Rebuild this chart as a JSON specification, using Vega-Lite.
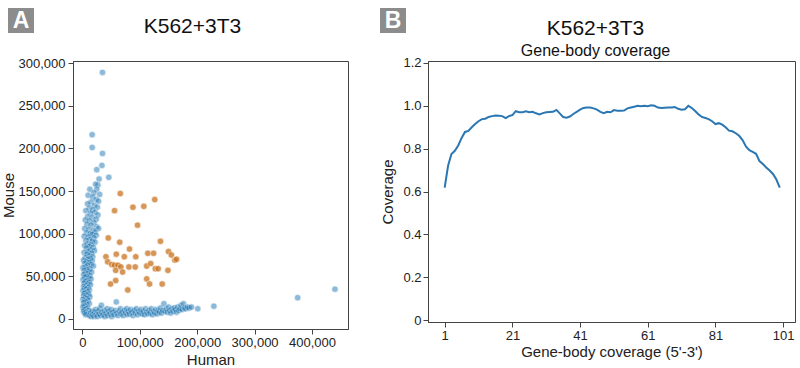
{
  "$schema": "https://vega.github.io/schema/vega-lite/v6.json",
  "padding": {"left": 0, "top": 0, "right": 0, "bottom": 0},
  "background": "white",
  "config": {
    "font": "Liberation Sans",
    "view": {"stroke": "#444", "strokeWidth": 1},
    "axis": {"grid": false, "domainColor": "#444", "tickColor": "#444", "tickSize": 5, "labelFontSize": 13, "labelColor": "#222", "titleFontSize": 15, "titleFontWeight": "normal", "titleColor": "#222", "labelPadding": 2, "titlePadding": 3},
    "title": {"fontSize": 21, "fontWeight": "normal", "color": "#111", "subtitleFontSize": 16, "subtitleColor": "#111", "subtitleFont": "Liberation Sans"}
  },
  "columns": 1,
  "align": "none",
  "spacing": -26,
  "concat": [
    {
      "spacing": 330,
      "hconcat": [
        {
          "width": 34, "height": 33,
          "view": {"fill": "#8c8c8c", "stroke": "white", "strokeWidth": 8},
          "data": {"values": [{"label": "A"}]},
          "mark": {"type": "text", "fontSize": 23, "fontWeight": "bold", "color": "white", "font": "Liberation Sans"},
          "encoding": {"text": {"field": "label"}}
        },
        {
          "width": 34, "height": 33,
          "view": {"fill": "#8c8c8c", "stroke": "white", "strokeWidth": 8},
          "data": {"values": [{"label": "B"}]},
          "mark": {"type": "text", "fontSize": 23, "fontWeight": "bold", "color": "white", "font": "Liberation Sans"},
          "encoding": {"text": {"field": "label"}}
        }
      ]
    },
    {
      "spacing": 31,
      "hconcat": [
        {
          "spacing": -5,
          "hconcat": [
            {
              "width": 1, "height": 1,
              "view": {"stroke": null, "fill": null},
              "data": {"values": [{"label": ""}]},
              "mark": {"type": "text"},
              "encoding": {"text": {"field": "label"}}
            },
            {
              "width": 275, "height": 268,
              "view": {"stroke": "#444", "strokeWidth": 1},
              "title": {"text": "K562+3T3", "dx": -18, "offset": 20},
              "data": {"values": [
                {"Human":35000,"Mouse":289000,"Type":"Singlet"},{"Human":17000,"Mouse":216000,"Type":"Singlet"},{"Human":17000,"Mouse":201000,"Type":"Singlet"},{"Human":35000,"Mouse":194000,"Type":"Singlet"},{"Human":34000,"Mouse":180000,"Type":"Singlet"},{"Human":25000,"Mouse":175000,"Type":"Singlet"},{"Human":46000,"Mouse":166000,"Type":"Singlet"},{"Human":29000,"Mouse":164000,"Type":"Singlet"},{"Human":27000,"Mouse":157000,"Type":"Singlet"},{"Human":23000,"Mouse":158000,"Type":"Singlet"},{"Human":13000,"Mouse":152000,"Type":"Singlet"},{"Human":25000,"Mouse":152000,"Type":"Singlet"},{"Human":20000,"Mouse":148000,"Type":"Singlet"},{"Human":30000,"Mouse":146000,"Type":"Singlet"},{"Human":10000,"Mouse":145000,"Type":"Singlet"},{"Human":18000,"Mouse":143000,"Type":"Singlet"},{"Human":24000,"Mouse":140000,"Type":"Singlet"},{"Human":28000,"Mouse":138000,"Type":"Singlet"},{"Human":15000,"Mouse":137000,"Type":"Singlet"},{"Human":9000,"Mouse":135000,"Type":"Singlet"},{"Human":21000,"Mouse":133000,"Type":"Singlet"},{"Human":26000,"Mouse":131000,"Type":"Singlet"},{"Human":12000,"Mouse":130000,"Type":"Singlet"},{"Human":18000,"Mouse":128000,"Type":"Singlet"},{"Human":6000,"Mouse":127000,"Type":"Singlet"},{"Human":22000,"Mouse":125000,"Type":"Singlet"},{"Human":14000,"Mouse":124000,"Type":"Singlet"},{"Human":27000,"Mouse":122000,"Type":"Singlet"},{"Human":9000,"Mouse":120000,"Type":"Singlet"},{"Human":17000,"Mouse":119000,"Type":"Singlet"},{"Human":24000,"Mouse":117000,"Type":"Singlet"},{"Human":5000,"Mouse":116000,"Type":"Singlet"},{"Human":12000,"Mouse":115000,"Type":"Singlet"},{"Human":20000,"Mouse":113000,"Type":"Singlet"},{"Human":8000,"Mouse":111000,"Type":"Singlet"},{"Human":15000,"Mouse":110000,"Type":"Singlet"},{"Human":25000,"Mouse":108000,"Type":"Singlet"},{"Human":28000,"Mouse":106000,"Type":"Singlet"},{"Human":4000,"Mouse":106000,"Type":"Singlet"},{"Human":11000,"Mouse":105000,"Type":"Singlet"},{"Human":19000,"Mouse":104000,"Type":"Singlet"},{"Human":22000,"Mouse":102000,"Type":"Singlet"},{"Human":7000,"Mouse":101000,"Type":"Singlet"},{"Human":14000,"Mouse":100000,"Type":"Singlet"},{"Human":17000,"Mouse":99000,"Type":"Singlet"},{"Human":24000,"Mouse":98000,"Type":"Singlet"},{"Human":3000,"Mouse":97000,"Type":"Singlet"},{"Human":10000,"Mouse":96000,"Type":"Singlet"},{"Human":20000,"Mouse":95000,"Type":"Singlet"},{"Human":13000,"Mouse":93000,"Type":"Singlet"},{"Human":6000,"Mouse":92000,"Type":"Singlet"},{"Human":17000,"Mouse":91000,"Type":"Singlet"},{"Human":22000,"Mouse":90000,"Type":"Singlet"},{"Human":9000,"Mouse":88000,"Type":"Singlet"},{"Human":15000,"Mouse":87000,"Type":"Singlet"},{"Human":4000,"Mouse":86000,"Type":"Singlet"},{"Human":12000,"Mouse":85000,"Type":"Singlet"},{"Human":19000,"Mouse":84000,"Type":"Singlet"},{"Human":7000,"Mouse":83000,"Type":"Singlet"},{"Human":14000,"Mouse":81000,"Type":"Singlet"},{"Human":21000,"Mouse":80000,"Type":"Singlet"},{"Human":10000,"Mouse":79000,"Type":"Singlet"},{"Human":3000,"Mouse":78000,"Type":"Singlet"},{"Human":16000,"Mouse":77000,"Type":"Singlet"},{"Human":8000,"Mouse":76000,"Type":"Singlet"},{"Human":12000,"Mouse":74000,"Type":"Singlet"},{"Human":18000,"Mouse":73000,"Type":"Singlet"},{"Human":5000,"Mouse":72000,"Type":"Singlet"},{"Human":14000,"Mouse":71000,"Type":"Singlet"},{"Human":10000,"Mouse":70000,"Type":"Singlet"},{"Human":2000,"Mouse":69000,"Type":"Singlet"},{"Human":17000,"Mouse":68000,"Type":"Singlet"},{"Human":7000,"Mouse":67000,"Type":"Singlet"},{"Human":12000,"Mouse":66000,"Type":"Singlet"},{"Human":4000,"Mouse":65000,"Type":"Singlet"},{"Human":15000,"Mouse":64000,"Type":"Singlet"},{"Human":9000,"Mouse":63000,"Type":"Singlet"},{"Human":19000,"Mouse":62000,"Type":"Singlet"},{"Human":6000,"Mouse":61000,"Type":"Singlet"},{"Human":1000,"Mouse":60000,"Type":"Singlet"},{"Human":13000,"Mouse":59000,"Type":"Singlet"},{"Human":8000,"Mouse":58000,"Type":"Singlet"},{"Human":3000,"Mouse":57000,"Type":"Singlet"},{"Human":11000,"Mouse":56000,"Type":"Singlet"},{"Human":16000,"Mouse":55000,"Type":"Singlet"},{"Human":5000,"Mouse":54000,"Type":"Singlet"},{"Human":9000,"Mouse":53000,"Type":"Singlet"},{"Human":2000,"Mouse":52000,"Type":"Singlet"},{"Human":13000,"Mouse":51000,"Type":"Singlet"},{"Human":7000,"Mouse":50000,"Type":"Singlet"},{"Human":4000,"Mouse":49000,"Type":"Singlet"},{"Human":11000,"Mouse":48000,"Type":"Singlet"},{"Human":15000,"Mouse":47000,"Type":"Singlet"},{"Human":1000,"Mouse":46000,"Type":"Singlet"},{"Human":8000,"Mouse":45000,"Type":"Singlet"},{"Human":5000,"Mouse":44000,"Type":"Singlet"},{"Human":12000,"Mouse":43000,"Type":"Singlet"},{"Human":3000,"Mouse":42000,"Type":"Singlet"},{"Human":9000,"Mouse":41000,"Type":"Singlet"},{"Human":14000,"Mouse":40000,"Type":"Singlet"},{"Human":6000,"Mouse":39000,"Type":"Singlet"},{"Human":2000,"Mouse":38000,"Type":"Singlet"},{"Human":10000,"Mouse":37000,"Type":"Singlet"},{"Human":4000,"Mouse":36000,"Type":"Singlet"},{"Human":7000,"Mouse":35000,"Type":"Singlet"},{"Human":12000,"Mouse":34000,"Type":"Singlet"},{"Human":1000,"Mouse":33000,"Type":"Singlet"},{"Human":9000,"Mouse":32000,"Type":"Singlet"},{"Human":5000,"Mouse":31000,"Type":"Singlet"},{"Human":3000,"Mouse":30000,"Type":"Singlet"},{"Human":11000,"Mouse":29000,"Type":"Singlet"},{"Human":7000,"Mouse":28000,"Type":"Singlet"},{"Human":2000,"Mouse":27000,"Type":"Singlet"},{"Human":13000,"Mouse":26000,"Type":"Singlet"},{"Human":5000,"Mouse":25000,"Type":"Singlet"},{"Human":8000,"Mouse":24000,"Type":"Singlet"},{"Human":1000,"Mouse":23000,"Type":"Singlet"},{"Human":10000,"Mouse":22000,"Type":"Singlet"},{"Human":4000,"Mouse":21000,"Type":"Singlet"},{"Human":6000,"Mouse":20000,"Type":"Singlet"},{"Human":2000,"Mouse":19000,"Type":"Singlet"},{"Human":12000,"Mouse":18000,"Type":"Singlet"},{"Human":8000,"Mouse":17000,"Type":"Singlet"},{"Human":3000,"Mouse":16000,"Type":"Singlet"},{"Human":5000,"Mouse":15000,"Type":"Singlet"},{"Human":1000,"Mouse":14000,"Type":"Singlet"},{"Human":9000,"Mouse":13000,"Type":"Singlet"},{"Human":6000,"Mouse":12000,"Type":"Singlet"},{"Human":3000,"Mouse":11000,"Type":"Singlet"},{"Human":11000,"Mouse":10000,"Type":"Singlet"},{"Human":2000,"Mouse":9000,"Type":"Singlet"},{"Human":7000,"Mouse":8000,"Type":"Singlet"},{"Human":4000,"Mouse":7000,"Type":"Singlet"},{"Human":10000,"Mouse":6000,"Type":"Singlet"},{"Human":6000,"Mouse":5000,"Type":"Singlet"},
                {"Human":12000,"Mouse":4000,"Type":"Singlet"},{"Human":14000,"Mouse":7000,"Type":"Singlet"},{"Human":15000,"Mouse":3000,"Type":"Singlet"},{"Human":17000,"Mouse":9000,"Type":"Singlet"},{"Human":18000,"Mouse":5000,"Type":"Singlet"},{"Human":20000,"Mouse":3000,"Type":"Singlet"},{"Human":21000,"Mouse":8000,"Type":"Singlet"},{"Human":23000,"Mouse":11000,"Type":"Singlet"},{"Human":24000,"Mouse":5000,"Type":"Singlet"},{"Human":26000,"Mouse":3000,"Type":"Singlet"},{"Human":27000,"Mouse":9000,"Type":"Singlet"},{"Human":29000,"Mouse":6000,"Type":"Singlet"},{"Human":30000,"Mouse":12000,"Type":"Singlet"},{"Human":32000,"Mouse":4000,"Type":"Singlet"},{"Human":33000,"Mouse":16000,"Type":"Singlet"},{"Human":34000,"Mouse":8000,"Type":"Singlet"},{"Human":36000,"Mouse":5000,"Type":"Singlet"},{"Human":38000,"Mouse":10000,"Type":"Singlet"},{"Human":39000,"Mouse":3000,"Type":"Singlet"},{"Human":41000,"Mouse":7000,"Type":"Singlet"},{"Human":43000,"Mouse":12000,"Type":"Singlet"},{"Human":44000,"Mouse":4000,"Type":"Singlet"},{"Human":46000,"Mouse":9000,"Type":"Singlet"},{"Human":48000,"Mouse":6000,"Type":"Singlet"},{"Human":50000,"Mouse":11000,"Type":"Singlet"},{"Human":51000,"Mouse":3000,"Type":"Singlet"},{"Human":53000,"Mouse":8000,"Type":"Singlet"},{"Human":55000,"Mouse":5000,"Type":"Singlet"},{"Human":57000,"Mouse":10000,"Type":"Singlet"},{"Human":59000,"Mouse":20000,"Type":"Singlet"},{"Human":60000,"Mouse":7000,"Type":"Singlet"},{"Human":62000,"Mouse":4000,"Type":"Singlet"},{"Human":64000,"Mouse":9000,"Type":"Singlet"},{"Human":66000,"Mouse":12000,"Type":"Singlet"},{"Human":67000,"Mouse":6000,"Type":"Singlet"},{"Human":69000,"Mouse":8000,"Type":"Singlet"},{"Human":71000,"Mouse":4000,"Type":"Singlet"},{"Human":73000,"Mouse":10000,"Type":"Singlet"},{"Human":75000,"Mouse":7000,"Type":"Singlet"},{"Human":77000,"Mouse":12000,"Type":"Singlet"},{"Human":78000,"Mouse":5000,"Type":"Singlet"},{"Human":80000,"Mouse":9000,"Type":"Singlet"},{"Human":82000,"Mouse":6000,"Type":"Singlet"},{"Human":84000,"Mouse":11000,"Type":"Singlet"},{"Human":86000,"Mouse":8000,"Type":"Singlet"},{"Human":88000,"Mouse":4000,"Type":"Singlet"},{"Human":90000,"Mouse":10000,"Type":"Singlet"},{"Human":92000,"Mouse":7000,"Type":"Singlet"},{"Human":94000,"Mouse":12000,"Type":"Singlet"},{"Human":96000,"Mouse":5000,"Type":"Singlet"},{"Human":98000,"Mouse":9000,"Type":"Singlet"},{"Human":100000,"Mouse":7000,"Type":"Singlet"},{"Human":102000,"Mouse":11000,"Type":"Singlet"},{"Human":104000,"Mouse":6000,"Type":"Singlet"},{"Human":106000,"Mouse":9000,"Type":"Singlet"},{"Human":108000,"Mouse":5000,"Type":"Singlet"},{"Human":110000,"Mouse":12000,"Type":"Singlet"},{"Human":112000,"Mouse":8000,"Type":"Singlet"},{"Human":114000,"Mouse":6000,"Type":"Singlet"},{"Human":116000,"Mouse":10000,"Type":"Singlet"},{"Human":118000,"Mouse":7000,"Type":"Singlet"},{"Human":120000,"Mouse":12000,"Type":"Singlet"},{"Human":122000,"Mouse":5000,"Type":"Singlet"},{"Human":124000,"Mouse":9000,"Type":"Singlet"},{"Human":126000,"Mouse":7000,"Type":"Singlet"},{"Human":128000,"Mouse":11000,"Type":"Singlet"},{"Human":130000,"Mouse":6000,"Type":"Singlet"},{"Human":132000,"Mouse":10000,"Type":"Singlet"},{"Human":134000,"Mouse":8000,"Type":"Singlet"},{"Human":136000,"Mouse":13000,"Type":"Singlet"},{"Human":138000,"Mouse":7000,"Type":"Singlet"},{"Human":140000,"Mouse":10000,"Type":"Singlet"},{"Human":142000,"Mouse":18000,"Type":"Singlet"},{"Human":144000,"Mouse":9000,"Type":"Singlet"},{"Human":146000,"Mouse":12000,"Type":"Singlet"},{"Human":148000,"Mouse":8000,"Type":"Singlet"},{"Human":150000,"Mouse":14000,"Type":"Singlet"},{"Human":152000,"Mouse":10000,"Type":"Singlet"},{"Human":154000,"Mouse":7000,"Type":"Singlet"},{"Human":156000,"Mouse":12000,"Type":"Singlet"},{"Human":158000,"Mouse":9000,"Type":"Singlet"},{"Human":160000,"Mouse":13000,"Type":"Singlet"},{"Human":162000,"Mouse":11000,"Type":"Singlet"},{"Human":164000,"Mouse":8000,"Type":"Singlet"},{"Human":166000,"Mouse":14000,"Type":"Singlet"},{"Human":168000,"Mouse":10000,"Type":"Singlet"},{"Human":170000,"Mouse":12000,"Type":"Singlet"},{"Human":172000,"Mouse":16000,"Type":"Singlet"},{"Human":174000,"Mouse":11000,"Type":"Singlet"},{"Human":176000,"Mouse":18000,"Type":"Singlet"},{"Human":178000,"Mouse":13000,"Type":"Singlet"},{"Human":180000,"Mouse":12000,"Type":"Singlet"},{"Human":183000,"Mouse":14000,"Type":"Singlet"},{"Human":186000,"Mouse":13000,"Type":"Singlet"},{"Human":190000,"Mouse":14000,"Type":"Singlet"},{"Human":201000,"Mouse":12000,"Type":"Singlet"},{"Human":229000,"Mouse":15000,"Type":"Singlet"},{"Human":375000,"Mouse":25000,"Type":"Singlet"},{"Human":440000,"Mouse":35000,"Type":"Singlet"},
                {"Human":66000,"Mouse":147000,"Type":"Multiplet"},{"Human":126000,"Mouse":140000,"Type":"Multiplet"},{"Human":107000,"Mouse":132000,"Type":"Multiplet"},{"Human":88000,"Mouse":131000,"Type":"Multiplet"},{"Human":56000,"Mouse":127000,"Type":"Multiplet"},{"Human":96000,"Mouse":110000,"Type":"Multiplet"},{"Human":45000,"Mouse":95000,"Type":"Multiplet"},{"Human":65000,"Mouse":90000,"Type":"Multiplet"},{"Human":136000,"Mouse":91000,"Type":"Multiplet"},{"Human":82000,"Mouse":82000,"Type":"Multiplet"},{"Human":41000,"Mouse":73000,"Type":"Multiplet"},{"Human":59000,"Mouse":76000,"Type":"Multiplet"},{"Human":73000,"Mouse":73000,"Type":"Multiplet"},{"Human":93000,"Mouse":73000,"Type":"Multiplet"},{"Human":114000,"Mouse":77000,"Type":"Multiplet"},{"Human":124000,"Mouse":77000,"Type":"Multiplet"},{"Human":150000,"Mouse":79000,"Type":"Multiplet"},{"Human":155000,"Mouse":75000,"Type":"Multiplet"},{"Human":161000,"Mouse":69000,"Type":"Multiplet"},{"Human":164000,"Mouse":70000,"Type":"Multiplet"},{"Human":44000,"Mouse":67000,"Type":"Multiplet"},{"Human":51000,"Mouse":64000,"Type":"Multiplet"},{"Human":56000,"Mouse":63000,"Type":"Multiplet"},{"Human":62000,"Mouse":63000,"Type":"Multiplet"},{"Human":67000,"Mouse":61000,"Type":"Multiplet"},{"Human":58000,"Mouse":57000,"Type":"Multiplet"},{"Human":70000,"Mouse":55000,"Type":"Multiplet"},{"Human":81000,"Mouse":61000,"Type":"Multiplet"},{"Human":92000,"Mouse":61000,"Type":"Multiplet"},{"Human":112000,"Mouse":62000,"Type":"Multiplet"},{"Human":119000,"Mouse":65000,"Type":"Multiplet"},{"Human":127000,"Mouse":59000,"Type":"Multiplet"},{"Human":132000,"Mouse":59000,"Type":"Multiplet"},{"Human":149000,"Mouse":57000,"Type":"Multiplet"},{"Human":58000,"Mouse":45000,"Type":"Multiplet"},{"Human":49000,"Mouse":41000,"Type":"Multiplet"},{"Human":112000,"Mouse":47000,"Type":"Multiplet"},{"Human":117000,"Mouse":41000,"Type":"Multiplet"},{"Human":139000,"Mouse":41000,"Type":"Multiplet"},{"Human":79000,"Mouse":34000,"Type":"Multiplet"}
              ]},
              "mark": {"type": "point", "filled": true, "size": 42, "stroke": "white", "strokeWidth": 0.6},
              "encoding": {
                "x": {"field": "Human", "type": "quantitative", "title": "Human",
                      "scale": {"domain": [-16400, 462700], "nice": false, "zero": false},
                      "axis": {"values": [0, 100000, 200000, 300000, 400000], "format": ",d", "labelPadding": 2, "titlePadding": 3}},
                "y": {"field": "Mouse", "type": "quantitative", "title": "Mouse",
                      "scale": {"domain": [-11719, 302344], "nice": false, "zero": false},
                      "axis": {"values": [0, 50000, 100000, 150000, 200000, 250000, 300000], "format": ",d", "labelPadding": 3, "titlePadding": 2}},
                "color": {"field": "Type", "type": "nominal", "legend": null,
                          "scale": {"domain": ["Singlet", "Multiplet"], "range": ["#1f77b4", "#c8731f"]}},
                "opacity": {"field": "Type", "type": "nominal", "legend": null,
                            "scale": {"domain": ["Singlet", "Multiplet"], "range": [0.5, 0.75]}}
              }
            }
          ]
        },
        {
          "width": 367, "height": 261,
          "view": {"stroke": "#444", "strokeWidth": 1},
          "title": {"text": "K562+3T3", "subtitle": "Gene-body coverage", "dx": -16, "offset": -2, "subtitlePadding": 4},
          "data": {"values": [
            {"Bin":1,"Coverage":0.618},{"Bin":2,"Coverage":0.72},{"Bin":3,"Coverage":0.775},{"Bin":4,"Coverage":0.79},{"Bin":5,"Coverage":0.815},{"Bin":6,"Coverage":0.85},{"Bin":7,"Coverage":0.878},{"Bin":8,"Coverage":0.883},{"Bin":9,"Coverage":0.9},{"Bin":10,"Coverage":0.915},
            {"Bin":11,"Coverage":0.928},{"Bin":12,"Coverage":0.938},{"Bin":13,"Coverage":0.94},{"Bin":14,"Coverage":0.948},{"Bin":15,"Coverage":0.952},{"Bin":16,"Coverage":0.955},{"Bin":17,"Coverage":0.954},{"Bin":18,"Coverage":0.952},{"Bin":19,"Coverage":0.943},{"Bin":20,"Coverage":0.952},
            {"Bin":21,"Coverage":0.957},{"Bin":22,"Coverage":0.975},{"Bin":23,"Coverage":0.97},{"Bin":24,"Coverage":0.97},{"Bin":25,"Coverage":0.974},{"Bin":26,"Coverage":0.97},{"Bin":27,"Coverage":0.972},{"Bin":28,"Coverage":0.965},{"Bin":29,"Coverage":0.96},{"Bin":30,"Coverage":0.966},
            {"Bin":31,"Coverage":0.97},{"Bin":32,"Coverage":0.971},{"Bin":33,"Coverage":0.972},{"Bin":34,"Coverage":0.981},{"Bin":35,"Coverage":0.965},{"Bin":36,"Coverage":0.948},{"Bin":37,"Coverage":0.945},{"Bin":38,"Coverage":0.95},{"Bin":39,"Coverage":0.962},{"Bin":40,"Coverage":0.972},
            {"Bin":41,"Coverage":0.982},{"Bin":42,"Coverage":0.99},{"Bin":43,"Coverage":0.992},{"Bin":44,"Coverage":0.992},{"Bin":45,"Coverage":0.988},{"Bin":46,"Coverage":0.982},{"Bin":47,"Coverage":0.972},{"Bin":48,"Coverage":0.966},{"Bin":49,"Coverage":0.972},{"Bin":50,"Coverage":0.97},
            {"Bin":51,"Coverage":0.98},{"Bin":52,"Coverage":0.977},{"Bin":53,"Coverage":0.977},{"Bin":54,"Coverage":0.978},{"Bin":55,"Coverage":0.988},{"Bin":56,"Coverage":0.992},{"Bin":57,"Coverage":0.996},{"Bin":58,"Coverage":1.0},{"Bin":59,"Coverage":0.998},{"Bin":60,"Coverage":1.0},
            {"Bin":61,"Coverage":0.998},{"Bin":62,"Coverage":1.003},{"Bin":63,"Coverage":1.0},{"Bin":64,"Coverage":0.992},{"Bin":65,"Coverage":0.99},{"Bin":66,"Coverage":0.991},{"Bin":67,"Coverage":0.992},{"Bin":68,"Coverage":0.992},{"Bin":69,"Coverage":0.994},{"Bin":70,"Coverage":0.986},
            {"Bin":71,"Coverage":0.982},{"Bin":72,"Coverage":0.984},{"Bin":73,"Coverage":1.0},{"Bin":74,"Coverage":0.99},{"Bin":75,"Coverage":0.976},{"Bin":76,"Coverage":0.96},{"Bin":77,"Coverage":0.948},{"Bin":78,"Coverage":0.943},{"Bin":79,"Coverage":0.938},{"Bin":80,"Coverage":0.928},
            {"Bin":81,"Coverage":0.915},{"Bin":82,"Coverage":0.919},{"Bin":83,"Coverage":0.912},{"Bin":84,"Coverage":0.9},{"Bin":85,"Coverage":0.884},{"Bin":86,"Coverage":0.881},{"Bin":87,"Coverage":0.872},{"Bin":88,"Coverage":0.86},{"Bin":89,"Coverage":0.84},{"Bin":90,"Coverage":0.81},
            {"Bin":91,"Coverage":0.793},{"Bin":92,"Coverage":0.785},{"Bin":93,"Coverage":0.776},{"Bin":94,"Coverage":0.742},{"Bin":95,"Coverage":0.728},{"Bin":96,"Coverage":0.712},{"Bin":97,"Coverage":0.698},{"Bin":98,"Coverage":0.682},{"Bin":99,"Coverage":0.656},{"Bin":100,"Coverage":0.618}
          ]},
          "mark": {"type": "line", "color": "#2a77b4", "strokeWidth": 2},
          "encoding": {
            "x": {"field": "Bin", "type": "quantitative", "title": "Gene-body coverage (5'-3')",
                  "scale": {"domain": [-3.93, 104.5], "nice": false, "zero": false},
                  "axis": {"values": [1, 21, 41, 61, 81, 101], "labelPadding": 2, "titlePadding": 2}},
            "y": {"field": "Coverage", "type": "quantitative", "title": "Coverage",
                  "scale": {"domain": [-0.0093, 1.2093], "nice": false, "zero": false},
                  "axis": {"values": [0, 0.2, 0.4, 0.6, 0.8, 1.0, 1.2], "labelExpr": "datum.value == 0 ? '0' : format(datum.value, '.1f')", "labelPadding": 2, "titlePadding": 7}}
          }
        }
      ]
    }
  ]
}
